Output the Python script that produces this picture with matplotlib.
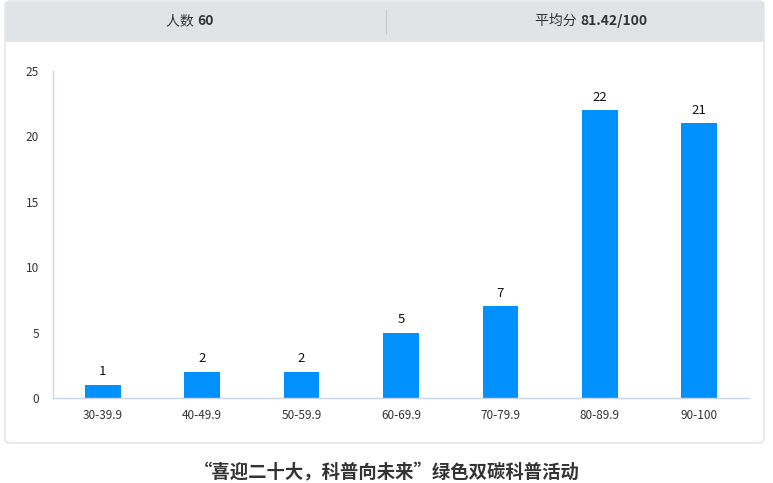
import matplotlib.pyplot as plt
from matplotlib.patches import FancyBboxPatch, Rectangle

plt.rcParams['font.family'] = ['Noto Sans CJK SC', 'DejaVu Sans']

# データ
categories = ['30-39.9', '40-49.9', '50-59.9', '60-69.9', '70-79.9', '80-89.9', '90-100']
counts = [1, 2, 2, 5, 7, 22, 21]
header_left = ('人数', '60')
header_right = ('平均分', '81.42/100')
title = '“喜迎二十大，科普向未来”绿色双碳科普活动'

W, H = 773, 483
fig = plt.figure(figsize=(W / 100, H / 100), dpi=100)


def fx(px):
    return px / W


def fy(py):
    return 1 - py / H


# カード（軸より背面に置く）
card = FancyBboxPatch((fx(5), fy(443)), fx(764) - fx(5), fy(1) - fy(443),
                      boxstyle='round,pad=0,rounding_size=0.008',
                      transform=fig.transFigure, facecolor='white',
                      edgecolor='#e4e6e8', linewidth=1.2, zorder=-3)
fig.patches.append(card)
# ヘッダー
header = Rectangle((fx(5.5), fy(42)), fx(763.5) - fx(5.5), fy(1.5) - fy(42),
                   transform=fig.transFigure, facecolor='#e1e4e6',
                   edgecolor='none', zorder=-2)
fig.patches.append(header)
fig.add_artist(plt.Line2D([fx(386), fx(386)], [fy(10), fy(34)],
                          transform=fig.transFigure, color='#c8cbcd', lw=0.8))

for cx, (lab, val) in [(197, header_left), (580, header_right)]:
    fig.text(fx(cx), fy(21), lab + ' ', ha='right', va='center', fontsize=10, color='#333333')
    fig.text(fx(cx), fy(21), val, ha='left', va='center', fontsize=10,
             color='#333333', fontweight='bold')

# 棒グラフ
ax = fig.add_axes([fx(53), fy(398), fx(749) - fx(53), fy(71) - fy(398)])
x = range(len(categories))
ax.bar(x, counts, width=0.36, color='#0091ff', zorder=2)
for i, v in enumerate(counts):
    ax.text(i, v + 0.5, str(v), ha='center', va='bottom', fontsize=9.5, color='#111111')

ax.set_xlim(-0.5, len(categories) - 0.5)
ax.set_ylim(0, 25)
ax.set_yticks([0, 5, 10, 15, 20, 25])
ax.set_xticks(list(x))
ax.set_xticklabels(categories)
ax.tick_params(axis='both', length=0, labelsize=8.5, colors='#333333')
ax.tick_params(axis='x', pad=8)
ax.tick_params(axis='y', pad=10)
for s in ['top', 'right']:
    ax.spines[s].set_visible(False)
for s in ['left', 'bottom']:
    ax.spines[s].set_color('#ccd6eb')
    ax.spines[s].set_linewidth(1)
ax.patch.set_alpha(0)

# タイトル
fig.text(0.5, fy(473), title, ha='center', va='center', fontsize=13.2,
         fontweight='bold', color='#333333')

fig.savefig('out.png', dpi=100)
